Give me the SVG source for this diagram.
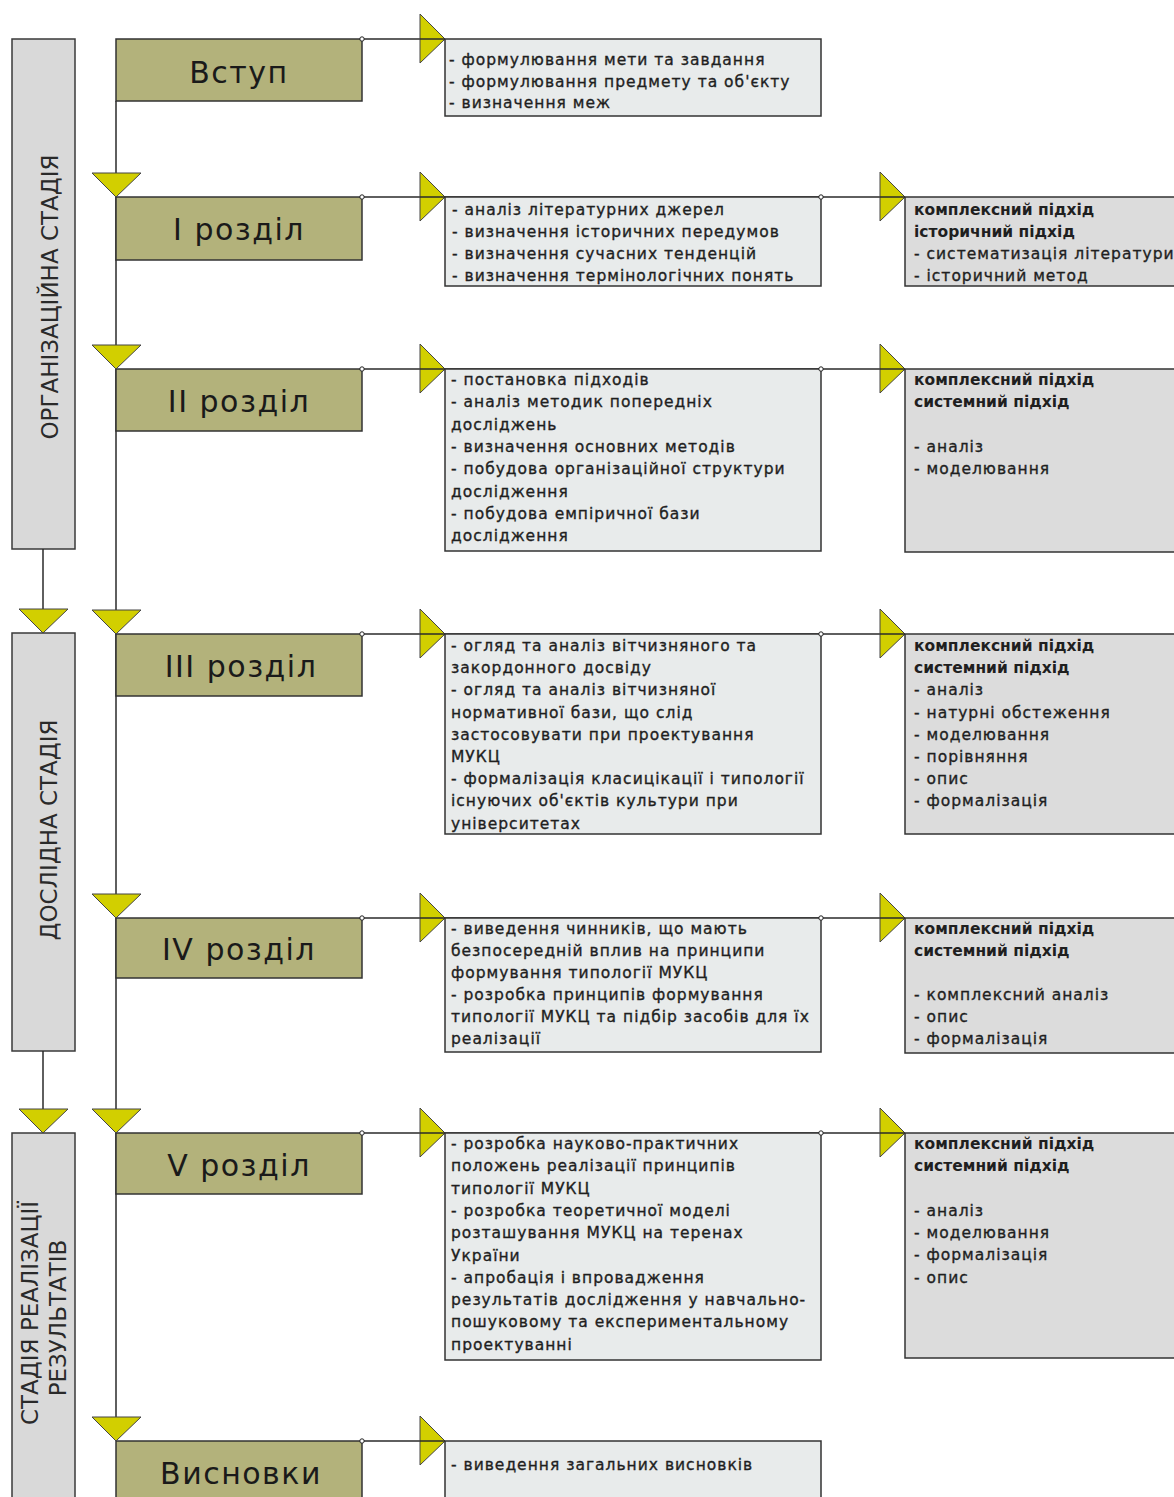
<svg xmlns="http://www.w3.org/2000/svg" width="1174" height="1497" viewBox="0 0 1174 1497">
<style>
.stage{fill:#d9d9d9;stroke:#3a3a3a;stroke-width:1.5}
.sec{fill:#b3b27b;stroke:#333;stroke-width:1.5}
.mid{fill:#e8ebeb;stroke:#333;stroke-width:1.5}
.rt{fill:#dcdcdc;stroke:#333;stroke-width:1.5}
.tri{fill:#d2cf00;stroke:#444;stroke-width:1}
.ln{stroke:#2a2a2a;stroke-width:1.5;fill:none}
.dot{fill:#fff;stroke:#222;stroke-width:1}
.t{font-family:"DejaVu Sans",sans-serif;font-size:15.5px;letter-spacing:1px;fill:#1f1f1f;stroke:#1f1f1f;stroke-width:0.35px}
.b{font-weight:bold;letter-spacing:0px;stroke-width:0px}
.title{font-family:"DejaVu Sans",sans-serif;font-size:30px;letter-spacing:1.5px;text-anchor:middle;fill:#1a1a1a}
.stg{font-family:"DejaVu Sans",sans-serif;font-size:23px;text-anchor:middle;fill:#2a2a2a}
</style>
<defs>
<polygon id="tr" class="tri" points="-25,-25 0,0 -25,24"/>
<polygon id="td" class="tri" points="-24,-24 25,-24 0,0"/>
<circle id="dt" class="dot" r="2.2"/>
</defs>
<rect width="1174" height="1497" fill="#fff"/>

<!-- stage nodes -->
<g id="stage1"><rect class="stage" x="12" y="39" width="63" height="510"/>
<text class="stg" transform="translate(58,297) rotate(-90)">ОРГАНІЗАЦІЙНА СТАДІЯ</text></g>
<g id="stage2"><rect class="stage" x="12" y="633" width="63" height="418"/>
<text class="stg" transform="translate(57,830) rotate(-90)">ДОСЛІДНА СТАДІЯ</text></g>
<g id="stage3"><rect class="stage" x="12" y="1133" width="63" height="380"/>
<text class="stg" transform="translate(38,1313) rotate(-90)">СТАДІЯ РЕАЛІЗАЦІЇ</text>
<text class="stg" transform="translate(66,1318) rotate(-90)">РЕЗУЛЬТАТІВ</text></g>

<!-- connectors -->
<g id="connectors">
<line class="ln" x1="116" y1="101" x2="116" y2="1441"/>
<line class="ln" x1="43" y1="549" x2="43" y2="633"/>
<line class="ln" x1="43" y1="1051" x2="43" y2="1133"/>
<line class="ln" x1="362" y1="39" x2="445" y2="39"/>
<line class="ln" x1="362" y1="197" x2="905" y2="197"/>
<line class="ln" x1="362" y1="369" x2="905" y2="369"/>
<line class="ln" x1="362" y1="634" x2="905" y2="634"/>
<line class="ln" x1="362" y1="918" x2="905" y2="918"/>
<line class="ln" x1="362" y1="1133" x2="905" y2="1133"/>
<line class="ln" x1="362" y1="1441" x2="445" y2="1441"/>
</g>

<!-- section nodes -->
<g id="vstup"><rect class="sec" x="116" y="39" width="246" height="62"/><text class="title" x="239" y="83">Вступ</text></g>
<g id="r1"><rect class="sec" x="116" y="197" width="246" height="63"/><text class="title" x="239" y="240">I розділ</text></g>
<g id="r2"><rect class="sec" x="116" y="369" width="246" height="62"/><text class="title" x="239" y="412">II розділ</text></g>
<g id="r3"><rect class="sec" x="116" y="634" width="246" height="62"/><text class="title" x="241" y="677">III розділ</text></g>
<g id="r4"><rect class="sec" x="116" y="918" width="246" height="60"/><text class="title" x="239" y="960">IV розділ</text></g>
<g id="r5"><rect class="sec" x="116" y="1133" width="246" height="61"/><text class="title" x="239" y="1176">V розділ</text></g>
<g id="vysnovky"><rect class="sec" x="116" y="1441" width="246" height="70"/><text class="title" x="241" y="1484">Висновки</text></g>

<!-- task nodes -->
<g id="t0"><rect class="mid" x="445" y="39" width="376" height="77"/>
<text class="t" x="449" y="65"><tspan x="449">- формулювання мети та завдання</tspan><tspan x="449" dy="21.6">- формулювання предмету та об'єкту</tspan><tspan x="449" dy="21.6">- визначення меж</tspan></text></g>
<g id="t1"><rect class="mid" x="445" y="197" width="376" height="89"/>
<text class="t" y="215"><tspan x="452">- аналіз літературних джерел</tspan><tspan x="452" dy="22">- визначення історичних передумов</tspan><tspan x="452" dy="22">- визначення сучасних тенденцій</tspan><tspan x="452" dy="22">- визначення термінологічних понять</tspan></text></g>
<g id="t2"><rect class="mid" x="445" y="369" width="376" height="182"/>
<text class="t" y="385"><tspan x="451">- постановка підходів</tspan><tspan x="451" dy="22.3">- аналіз методик попередніх</tspan><tspan x="451" dy="22.3">досліджень</tspan><tspan x="451" dy="22.3">- визначення основних методів</tspan><tspan x="451" dy="22.3">- побудова організаційної структури</tspan><tspan x="451" dy="22.3">дослідження</tspan><tspan x="451" dy="22.3">- побудова емпіричної бази</tspan><tspan x="451" dy="22.3">дослідження</tspan></text></g>
<g id="t3"><rect class="mid" x="445" y="634" width="376" height="200"/>
<text class="t" y="651"><tspan x="451">- огляд та аналіз вітчизняного та</tspan><tspan x="451" dy="22.2">закордонного досвіду</tspan><tspan x="451" dy="22.2">- огляд та аналіз вітчизняної</tspan><tspan x="451" dy="22.2">нормативної бази, що слід</tspan><tspan x="451" dy="22.2">застосовувати при проектування</tspan><tspan x="451" dy="22.2">МУКЦ</tspan><tspan x="451" dy="22.2">- формалізація класицікації і типології</tspan><tspan x="451" dy="22.2">існуючих об'єктів культури при</tspan><tspan x="451" dy="22.2">університетах</tspan></text></g>
<g id="t4"><rect class="mid" x="445" y="918" width="376" height="134"/>
<text class="t" y="934"><tspan x="451">- виведення чинників, що мають</tspan><tspan x="451" dy="22">безпосередній вплив на принципи</tspan><tspan x="451" dy="22">формування типології МУКЦ</tspan><tspan x="451" dy="22">- розробка принципів формування</tspan><tspan x="451" dy="22">типології МУКЦ та підбір засобів для їх</tspan><tspan x="451" dy="22">реалізації</tspan></text></g>
<g id="t5"><rect class="mid" x="445" y="1133" width="376" height="227"/>
<text class="t" y="1149"><tspan x="451">- розробка науково-практичних</tspan><tspan x="451" dy="22.3">положень реалізації принципів</tspan><tspan x="451" dy="22.3">типології МУКЦ</tspan><tspan x="451" dy="22.3">- розробка теоретичної моделі</tspan><tspan x="451" dy="22.3">розташування МУКЦ на теренах</tspan><tspan x="451" dy="22.3">України</tspan><tspan x="451" dy="22.3">- апробація і впровадження</tspan><tspan x="451" dy="22.3">результатів дослідження у навчально-</tspan><tspan x="451" dy="22.3">пошуковому та експериментальному</tspan><tspan x="451" dy="22.3">проектуванні</tspan></text></g>
<g id="t6"><rect class="mid" x="445" y="1441" width="376" height="70"/>
<text class="t" x="451" y="1470">- виведення загальних висновків</text></g>

<!-- method nodes -->
<g id="m1"><rect class="rt" x="905" y="197" width="280" height="89"/>
<text class="t" y="215"><tspan x="914" class="b">комплексний підхід</tspan><tspan x="914" dy="22" class="b">історичний підхід</tspan><tspan x="914" dy="22">- систематизація літератури</tspan><tspan x="914" dy="22">- історичний метод</tspan></text></g>
<g id="m2"><rect class="rt" x="905" y="369" width="280" height="183"/>
<text class="t" y="385"><tspan x="914" class="b">комплексний підхід</tspan><tspan x="914" dy="22.3" class="b">системний підхід</tspan><tspan x="914" dy="44.6">- аналіз</tspan><tspan x="914" dy="22.3">- моделювання</tspan></text></g>
<g id="m3"><rect class="rt" x="905" y="634" width="280" height="200"/>
<text class="t" y="651"><tspan x="914" class="b">комплексний підхід</tspan><tspan x="914" dy="22.2" class="b">системний підхід</tspan><tspan x="914" dy="22.2">- аналіз</tspan><tspan x="914" dy="22.2">- натурні обстеження</tspan><tspan x="914" dy="22.2">- моделювання</tspan><tspan x="914" dy="22.2">- порівняння</tspan><tspan x="914" dy="22.2">- опис</tspan><tspan x="914" dy="22.2">- формалізація</tspan></text></g>
<g id="m4"><rect class="rt" x="905" y="918" width="280" height="135"/>
<text class="t" y="934"><tspan x="914" class="b">комплексний підхід</tspan><tspan x="914" dy="22" class="b">системний підхід</tspan><tspan x="914" dy="44">- комплексний аналіз</tspan><tspan x="914" dy="22">- опис</tspan><tspan x="914" dy="22">- формалізація</tspan></text></g>
<g id="m5"><rect class="rt" x="905" y="1133" width="280" height="225"/>
<text class="t" y="1149"><tspan x="914" class="b">комплексний підхід</tspan><tspan x="914" dy="22.2" class="b">системний підхід</tspan><tspan x="914" dy="44.5">- аналіз</tspan><tspan x="914" dy="22.3">- моделювання</tspan><tspan x="914" dy="22.3">- формалізація</tspan><tspan x="914" dy="22.3">- опис</tspan></text></g>

<!-- arrowheads and junction dots -->
<g id="arrowheads">
<use href="#td" x="116" y="197"/><use href="#td" x="116" y="369"/><use href="#td" x="116" y="634"/>
<use href="#td" x="116" y="918"/><use href="#td" x="116" y="1133"/><use href="#td" x="116" y="1441"/>
<use href="#td" x="43" y="633"/><use href="#td" x="43" y="1133"/>
<use href="#tr" x="445" y="39"/><use href="#tr" x="445" y="197"/><use href="#tr" x="445" y="369"/>
<use href="#tr" x="445" y="634"/><use href="#tr" x="445" y="918"/><use href="#tr" x="445" y="1133"/><use href="#tr" x="445" y="1441"/>
<use href="#tr" x="905" y="197"/><use href="#tr" x="905" y="369"/><use href="#tr" x="905" y="634"/>
<use href="#tr" x="905" y="918"/><use href="#tr" x="905" y="1133"/>
<line class="ln" x1="420" y1="39" x2="445" y2="39"/><line class="ln" x1="420" y1="197" x2="445" y2="197"/>
<line class="ln" x1="420" y1="369" x2="445" y2="369"/><line class="ln" x1="420" y1="634" x2="445" y2="634"/>
<line class="ln" x1="420" y1="918" x2="445" y2="918"/><line class="ln" x1="420" y1="1133" x2="445" y2="1133"/>
<line class="ln" x1="420" y1="1441" x2="445" y2="1441"/>
<line class="ln" x1="880" y1="197" x2="905" y2="197"/><line class="ln" x1="880" y1="369" x2="905" y2="369"/>
<line class="ln" x1="880" y1="634" x2="905" y2="634"/><line class="ln" x1="880" y1="918" x2="905" y2="918"/>
<line class="ln" x1="880" y1="1133" x2="905" y2="1133"/>
<use href="#dt" x="362" y="39"/><use href="#dt" x="362" y="197"/><use href="#dt" x="362" y="369"/><use href="#dt" x="362" y="634"/>
<use href="#dt" x="362" y="918"/><use href="#dt" x="362" y="1133"/><use href="#dt" x="362" y="1441"/>
<use href="#dt" x="821" y="197"/><use href="#dt" x="821" y="369"/><use href="#dt" x="821" y="634"/>
<use href="#dt" x="821" y="918"/><use href="#dt" x="821" y="1133"/>
</g>
</svg>
